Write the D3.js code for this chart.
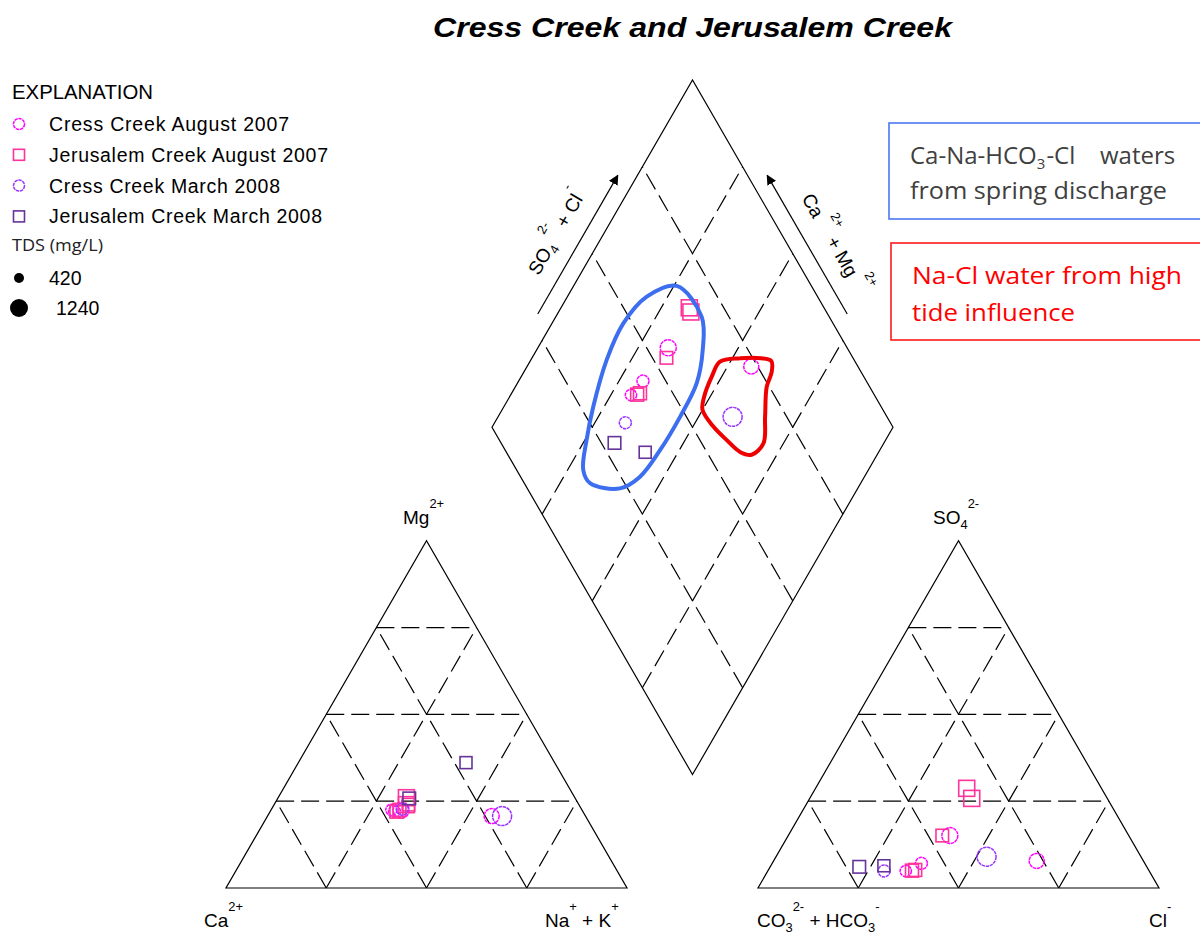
<!DOCTYPE html>
<html>
<head>
<meta charset="utf-8">
<script src="https://d3js.org/d3.v7.min.js"></script>
<style>
  body { margin: 0; background: #fff; }
  svg { display: block; }
</style>
</head>
<body>
<div id="my_dataviz"></div>
<script>

    // ---- data (percent of meq/L) ----
    var seriesNames = ["Cress Creek August 2007", "Jerusalem Creek August 2007",
                       "Cress Creek March 2008", "Jerusalem Creek March 2008"];
    var seriesShape = ["circle", "square", "circle", "square"];
    var seriesColor = ["#ff00ff", "#ff3399", "#9933ff", "#663399"];

    var sampleSeries = [0, 0, 0, 0, 1, 1, 1, 1, 1, 2, 2, 3, 3];
    var mg  = [20.7, 22.4, 22.0, 22.5, 26.0, 24.0, 24.0, 22.0, 22.5, 22.7, 20.7, 25.8, 36.1];
    var naK = [55.9, 32.5, 31.0, 30.0, 32.0, 33.0, 33.5, 31.5, 32.0, 32.6, 58.5, 32.8, 41.8];
    var so4 = [7.8, 15.1, 7.1, 4.9, 28.7, 25.8, 15.1, 5.0, 5.2, 4.9, 9.0, 6.1, 6.4];
    var cl  = [65.6, 40.3, 37.2, 34.4, 37.7, 40.4, 38.4, 35.9, 36.6, 29.0, 52.5, 22.2, 28.2];
    var tds = [830, 930, 520, 450, 930, 930, 580, 620, 620, 520, 1240, 580, 520];

    var tdsLegend = [420, 1240];
    var gridTicks = [25, 50, 75];

    // hand-drawn groupings, in diamond units (SO4+Cl, Ca+Mg)
    var springA = [66.4, 68.2, 63.7, 57.4, 48.4, 38.6, 29.7, 23.1, 16.4, 16.6, 21.8, 28.2, 38.3, 47.7, 57.4];
    var springC = [74.3, 63.6, 58.6, 55.3, 54.6, 54.8, 56.0, 59.3, 67.5, 71.1, 74.6, 77.7, 81.1, 82.2, 80.2];
    var tideA = [66.3, 71.8, 77.0, 79.2, 77.7, 74.3, 69.6, 65.4, 60.8, 58.3, 56.7, 55.3, 55.0, 57.3, 62.1];
    var tideC = [52.6, 48.1, 42.9, 39.9, 38.2, 37.3, 33.4, 30.0, 31.3, 34.6, 39.6, 44.9, 50.0, 51.5, 52.5];

    // ---- layout ----
    var width = 1200, height = 934;
    var side = 401, base = 888, catX = 226, gap = 131;
    var anX = catX + side + gap;
    var tri = side * Math.sqrt(3) / 2;

    var pct = d3.scaleLinear().domain([0, 100]).range([0, side]);
    var pctY = d3.scaleLinear().domain([0, 100]).range([0, tri]);
    var size = d3.scaleLinear().domain([420, 1240]).range([5.5, 9.5]);

    var dBot = [catX + side + gap / 2, base - gap / 2 * Math.sqrt(3)];

    function tern(x0, right, top) {
        return [x0 + pct(right + top / 2), base - pctY(top)];
    }
    function diam(a, c) {
        return [dBot[0] + pct(a - c) / 2, dBot[1] - pctY(a + c)];
    }

    var svg = d3.select("#my_dataviz")
        .append("svg")
        .attr("width", width)
        .attr("height", height)
        .style("font-family", "'Liberation Sans', Arial, sans-serif");

    var lineFn = d3.line();

    function seg(g, p, q, dashed) {
        g.append("path")
            .attr("d", lineFn([p, q]))
            .attr("stroke", "#000")
            .attr("stroke-width", 1.2)
            .attr("fill", "none")
            .attr("stroke-dasharray", dashed ? "18,7" : null);
    }

    // text with sub / superscripts: parts = [[text, "sup"|"sub"|null], ...]
    function richText(g, x, y, parts, fs, anchor) {
        var t = g.append("text")
            .attr("x", x).attr("y", y)
            .attr("font-size", fs)
            .attr("text-anchor", anchor || "start")
            .attr("fill", "#000");
        var cur = 0;
        parts.forEach(function (p) {
            var off = p[1] === "sup" ? -fs * 0.85 : (p[1] === "sub" ? fs * 0.25 : 0);
            t.append("tspan")
                .attr("dy", off - cur)
                .attr("font-size", p[1] ? fs * 0.68 : fs)
                .text(p[0]);
            cur = off;
        });
        return t;
    }

    var grid = svg.append("g");

    // triangles
    [catX, anX].forEach(function (x0) {
        var a = tern(x0, 0, 0), b = tern(x0, 100, 0), c = tern(x0, 0, 100);
        grid.append("path")
            .attr("d", lineFn([a, b, c]) + "Z")
            .attr("stroke", "#000").attr("stroke-width", 1.2).attr("fill", "none");
        gridTicks.forEach(function (t) {
            seg(grid, tern(x0, 0, t), tern(x0, 100 - t, t), true);
            seg(grid, tern(x0, t, 0), tern(x0, t, 100 - t), true);
            seg(grid, tern(x0, 100 - t, 0), tern(x0, 0, 100 - t), true);
        });
    });

    // diamond
    grid.append("path")
        .attr("d", lineFn([diam(0, 0), diam(100, 0), diam(100, 100), diam(0, 100)]) + "Z")
        .attr("stroke", "#000").attr("stroke-width", 1.2).attr("fill", "none");
    gridTicks.forEach(function (t) {
        seg(grid, diam(t, 0), diam(t, 100), true);
        seg(grid, diam(0, t), diam(100, t), true);
    });

    // diamond arrows and labels
    svg.append("defs").append("marker")
        .attr("id", "head")
        .attr("viewBox", "0 0 10 10")
        .attr("refX", 9).attr("refY", 5)
        .attr("markerWidth", 10).attr("markerHeight", 10)
        .attr("markerUnits", "userSpaceOnUse")
        .attr("orient", "auto")
        .append("path").attr("d", "M0,0L10,5L0,10Z").attr("fill", "#000");

    var L = diam(0, 100), R = diam(100, 0);
    var s3 = Math.sqrt(3) / 2;
    function along(v, u, n, t, off) {
        return [v[0] + u[0] * t + n[0] * off, v[1] + u[1] * t + n[1] * off];
    }
    var uL = [0.5, -s3], nL = [-s3, -0.5];
    var uR = [-0.5, -s3], nR = [s3, -0.5];

    grid.append("path")
        .attr("d", lineFn([along(L, uL, nL, 121, 17), along(L, uL, nL, 281, 17)]))
        .attr("stroke", "#000").attr("stroke-width", 1.2).attr("marker-end", "url(#head)");
    grid.append("path")
        .attr("d", lineFn([along(R, uR, nR, 121, 17), along(R, uR, nR, 281, 17)]))
        .attr("stroke", "#000").attr("stroke-width", 1.2).attr("marker-end", "url(#head)");

    var pl = along(L, uL, nL, 201, 35);
    var gl = svg.append("g").attr("transform", "translate(" + pl[0] + "," + pl[1] + ") rotate(-60)");
    richText(gl, 0, 0, [["SO", null], ["4", "sub"], [" 2-", "sup"], [" + Cl", null], ["-", "sup"]], 19, "middle");

    var pr = along(R, uR, nR, 188, 35);
    var gr = svg.append("g").attr("transform", "translate(" + pr[0] + "," + pr[1] + ") rotate(60)");
    richText(gr, 0, 0, [["Ca ", null], ["2+", "sup"], [" + Mg ", null], ["2+", "sup"]], 19, "middle");

    // corner labels
    var lab = svg.append("g");
    richText(lab, 403, 524, [["Mg", null], ["2+", "sup"]], 19);
    richText(lab, 204, 927, [["Ca", null], ["2+", "sup"]], 19);
    richText(lab, 545, 927, [["Na", null], ["+", "sup"], [" + K", null], ["+", "sup"]], 19);
    richText(lab, 933, 524, [["SO", null], ["4", "sub"], ["2-", "sup"]], 19);
    richText(lab, 757, 927, [["CO", null], ["3", "sub"], ["2-", "sup"], [" + HCO", null], ["3", "sub"], ["-", "sup"]], 19);
    richText(lab, 1149, 927, [["Cl", null], ["-", "sup"]], 19);

    // samples
    var samples = sampleSeries.map(function (s, i) {
        return {
            series: s,
            r: size(tds[i]),
            cat: tern(catX, naK[i], mg[i]),
            an: tern(anX, cl[i], so4[i]),
            dia: diam(so4[i] + cl[i], 100 - naK[i])
        };
    });

    function drawSymbol(g, shape, p, r, color) {
        if (shape === "circle") {
            g.append("circle")
                .attr("cx", p[0]).attr("cy", p[1]).attr("r", r)
                .attr("fill", "none").attr("stroke", color)
                .attr("stroke-width", 1.5).attr("stroke-dasharray", "3.4,0.7");
        } else {
            g.append("rect")
                .attr("x", p[0] - r).attr("y", p[1] - r)
                .attr("width", 2 * r).attr("height", 2 * r)
                .attr("fill", "none").attr("stroke", color).attr("stroke-width", 1.6);
        }
    }

    var pts = svg.append("g");
    ["cat", "an", "dia"].forEach(function (key) {
        samples.forEach(function (d) {
            drawSymbol(pts, seriesShape[d.series], d[key], d.r, seriesColor[d.series]);
        });
    });

    // groupings
    var loopLine = d3.line().curve(d3.curveCatmullRomClosed.alpha(0.5));
    svg.append("path")
        .attr("d", loopLine(springA.map(function (a, i) { return diam(a, springC[i]); })))
        .attr("fill", "none").attr("stroke", "#3d6ef0").attr("stroke-width", 4);
    svg.append("path")
        .attr("d", loopLine(tideA.map(function (a, i) { return diam(a, tideC[i]); })))
        .attr("fill", "none").attr("stroke", "#ee0000").attr("stroke-width", 4);

    // title
    svg.append("text")
        .attr("x", 433).attr("y", 37)
        .attr("font-size", 27).attr("font-weight", "bold").attr("font-style", "italic")
        .attr("textLength", 519).attr("lengthAdjust", "spacingAndGlyphs")
        .text("Cress Creek and Jerusalem Creek");

    // legend
    var leg = svg.append("g");
    leg.append("text").attr("x", 12).attr("y", 99).attr("font-size", 19.5)
        .attr("textLength", 141).attr("lengthAdjust", "spacingAndGlyphs").text("EXPLANATION");
    var legWidths = [240, 279, 231, 273];
    seriesNames.forEach(function (name, i) {
        var cy = 124 + i * 30.8;
        drawSymbol(leg, seriesShape[i], [19, cy], 5.5, seriesColor[i]);
        leg.append("text").attr("x", 49).attr("y", cy + 7).attr("font-size", 19.5)
            .attr("textLength", legWidths[i]).text(name);
    });
    leg.append("text").attr("x", 12).attr("y", 251).attr("font-size", 16)
        .style("font-family", "'Open Sans', sans-serif").attr("fill", "#222")
        .attr("textLength", 91).attr("lengthAdjust", "spacingAndGlyphs").text("TDS (mg/L)");
    tdsLegend.forEach(function (v, i) {
        var cy = 278 + i * 30;
        leg.append("circle").attr("cx", 19).attr("cy", cy).attr("r", size(v) - 0.5).attr("fill", "#000");
        leg.append("text").attr("x", i ? 56 : 49).attr("y", cy + 7).attr("font-size", 19.5)
            .text(String(v));
    });

    // annotation boxes
    var box = svg.append("g").style("font-family", "'Open Sans', sans-serif");
    box.append("rect").attr("x", 889).attr("y", 123).attr("width", 330).attr("height", 96)
        .attr("fill", "#fff").attr("stroke", "#4a78f2").attr("stroke-width", 1.6);
    var bt = box.append("text").attr("x", 910).attr("y", 164).attr("font-size", 24).attr("fill", "#404040");
    bt.append("tspan").text("Ca-Na-HCO");
    bt.append("tspan").attr("dy", 5).attr("font-size", 15).text("3");
    bt.append("tspan").attr("dy", -5).attr("dx", 1).text("-Cl");
    bt.append("tspan").attr("x", 1100).text("waters");
    box.append("text").attr("x", 910).attr("y", 199).attr("font-size", 24).attr("fill", "#404040")
        .attr("textLength", 257).attr("lengthAdjust", "spacingAndGlyphs").text("from spring discharge");

    box.append("rect").attr("x", 891).attr("y", 243).attr("width", 330).attr("height", 97)
        .attr("fill", "#fff").attr("stroke", "#ff1a1a").attr("stroke-width", 1.6);
    box.append("text").attr("x", 912).attr("y", 284).attr("font-size", 24).attr("fill", "#ff0000")
        .attr("textLength", 270).attr("lengthAdjust", "spacingAndGlyphs").text("Na-Cl water from high");
    box.append("text").attr("x", 912).attr("y", 321).attr("font-size", 24).attr("fill", "#ff0000")
        .attr("textLength", 163).attr("lengthAdjust", "spacingAndGlyphs").text("tide influence");

</script>
</body>
</html>
